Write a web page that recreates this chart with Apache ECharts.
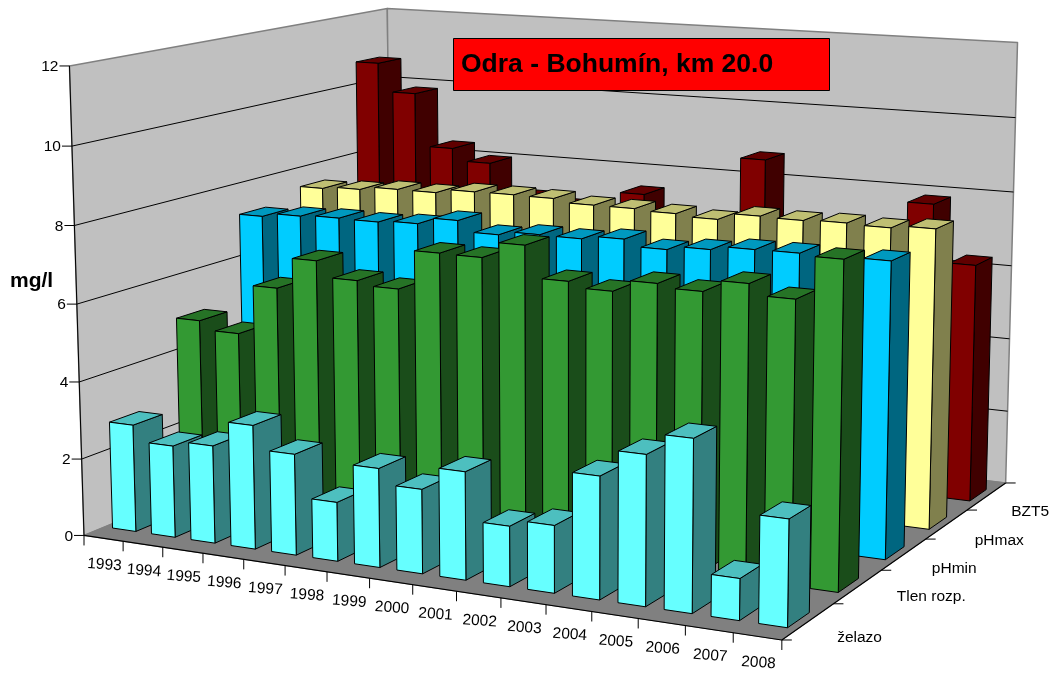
<!DOCTYPE html>
<html>
<head>
<meta charset="utf-8">
<title>Odra - Bohumín, km 20.0</title>
<style>html,body{margin:0;background:#fff}#chart{width:1058px;height:675px}</style>
</head>
<body>
<div id="chart"></div>
<script src="https://cdn.jsdelivr.net/npm/echarts@6/dist/echarts.min.js"></script>
<script>
// Water quality data, one list per measured parameter (mg/l by year)
const categories = ['1993','1994','1995','1996','1997','1998','1999','2000','2001','2002','2003','2004','2005','2006','2007','2008'];
const rows = ['želazo','Tlen rozp.','pHmin','pHmax','BZT5'];
const yTicks = [0,2,4,6,8,10,12];
const zelazo = [2.79,2.38,2.52,3.18,2.58,1.5,2.5,2.12,2.7,1.5,1.67,3.02,3.68,4.2,1.01,2.58];
const tlenRozp = [4.92,4.69,6,6.82,6.41,6.3,7.32,7.31,7.72,6.92,6.78,7.08,6.99,7.29,7.02,8.08];
const phMin = [7.21,7.31,7.35,7.34,7.39,7.57,7.29,7.39,7.38,7.47,7.3,7.4,7.5,7.51,7.45,7.52];
const phMax = [7.52,7.58,7.67,7.67,7.78,7.79,7.78,7.69,7.69,7.65,7.59,7.77,7.75,7.78,7.75,7.82];
const bzt5 = [10.68,9.88,8.39,8.05,7.16,7.0,6.8,7.52,6.6,6.5,8.73,6.8,6.8,6.6,7.89,6.36];
const rowValues = [zelazo,tlenRozp,phMin,phMax,bzt5];
const colors = ['#66ffff','#339933','#00ccff','#ffff99','#800000'];

// Perspective camera: maps (category, value, row) in the box to page pixels
const CAMERA = [38.266116,-1.3771266,75.443782,84.008371,2.156487,-39.281132,-10.878274,535.44052,-0.006840051,-0.0023911806,0.035380424];
function pr(x, y, z) {
  const c = CAMERA, w = c[8]*x + c[9]*y + c[10]*z + 1;
  return [(c[0]*x + c[1]*y + c[2]*z + c[3]) / w, (c[4]*x + c[5]*y + c[6]*z + c[7]) / w];
}

const X_N = categories.length, Z_N = rows.length, Y_MAX = 12;
const GAP_X = 0.2, GAP_Z = 0.29;
const FONT = '"Liberation Sans",Arial,sans-serif';
const rowLabelShift = [[29,16],[39,10],[28,14],[28,16],[24.5,15]];

function shade(hex, f) {
  const c = echarts.color.parse(hex);
  return `rgb(${Math.round(c[0]*f)},${Math.round(c[1]*f)},${Math.round(c[2]*f)})`;
}
const poly = (pts, fill, stroke, lw) => ({type:'polygon', shape:{points:pts}, style:{fill, stroke, lineWidth:lw||1, lineJoin:'round'}});
const line = (a, b, stroke, lw) => ({type:'line', shape:{x1:a[0],y1:a[1],x2:b[0],y2:b[1]}, style:{stroke, lineWidth:lw||1, fill:null}});
const text = (x, y, str, align, rot) => ({type:'text', x, y, rotation:rot||0, style:{text:str, fill:'#000', fontFamily:FONT, fontSize:15.5, align, verticalAlign:'middle'}});

// Side wall, back wall and floor of the box
const wallSeries = {type:'custom', coordinateSystem:'none', silent:true, z:1, data:[0], renderItem() {
  const a=pr(0,0,0), b=pr(X_N,0,0), c=pr(X_N,0,Z_N), d=pr(0,0,Z_N), e=pr(0,Y_MAX,0), f=pr(0,Y_MAX,Z_N), g=pr(X_N,Y_MAX,Z_N);
  return {type:'group', children:[
    poly([a,e,f,d],'#c0c0c0','#808080',1.5),
    poly([d,f,g,c],'#c0c0c0','#808080',1.5),
    poly([a,b,c,d],'#808080','#808080',1),
    line(a,e,'#000'), line(a,b,'#000',1.2), line(b,c,'#000',1.2)]};
}};

// Horizontal gridlines running along both walls
const gridSeries = {type:'custom', coordinateSystem:'none', silent:true, z:2, data:yTicks.filter(v => v > 0 && v < Y_MAX), renderItem(p, api) {
  const v = api.value(0);
  return {type:'polyline', shape:{points:[pr(0,v,0),pr(0,v,Z_N),pr(X_N,v,Z_N)]}, style:{stroke:'#000',lineWidth:1,fill:null}};
}};

// Value axis on the front edge of the side wall
const yAxisSeries = {type:'custom', coordinateSystem:'none', silent:true, z:3, data:yTicks, renderItem(p, api) {
  const v = api.value(0), q = pr(0,v,0);
  return {type:'group', children:[line([q[0]-10,q[1]],q,'#000'), text(q[0]-11,q[1]+1,String(v),'right')]};
}};

// Year axis along the front floor edge
const xAxisSeries = {type:'custom', coordinateSystem:'none', silent:true, z:3, data:categories.map((c,i)=>i).concat(X_N), renderItem(p, api) {
  const i = api.value(0), q = pr(i,0,0), kids = [line(q,[q[0],q[1]+10],'#000')];
  if (i < X_N) { const m = pr(i+0.5,0,0); kids.push(text(m[0]+1,m[1]+26.5,categories[i],'center',-0.07)); }
  return {type:'group', children:kids};
}};

// Parameter axis along the right floor edge
const zAxisSeries = {type:'custom', coordinateSystem:'none', silent:true, z:3, data:rows.map((c,i)=>i).concat(Z_N), renderItem(p, api) {
  const k = api.value(0), q = pr(X_N,0,k), kids = [line(q,[q[0]+10,q[1]],'#000')];
  if (k < Z_N) { const m = pr(X_N,0,k+0.5); kids.push(text(m[0]+rowLabelShift[k][0],m[1]+rowLabelShift[k][1],rows[k],'left')); }
  return {type:'group', children:kids};
}};

// One row of boxes; rows are layered back to front, boxes left to right
function barSeries(k) {
  const col = colors[k];
  return {type:'custom', name:rows[k], coordinateSystem:'none', silent:true, z:20-k, data:rowValues[k].map((v,i)=>[i,v]), renderItem(p, api) {
    const i = api.value(0), v = api.value(1), x0 = i+GAP_X, x1 = i+1-GAP_X, z0 = k+GAP_Z, z1 = k+1-GAP_Z;
    return {type:'group', children:[
      poly([pr(x1,0,z0),pr(x1,v,z0),pr(x1,v,z1),pr(x1,0,z1)],shade(col,0.5),'#000'),
      poly([pr(x0,v,z0),pr(x1,v,z0),pr(x1,v,z1),pr(x0,v,z1)],shade(col,0.75),'#000'),
      poly([pr(x0,0,z0),pr(x1,0,z0),pr(x1,v,z0),pr(x0,v,z0)],col,'#000')]};
  }};
}

const chart = echarts.init(document.getElementById('chart'), null, {renderer:'canvas'});
chart.setOption({
  animation:false,
  backgroundColor:'#fff',
  title:{text:'Odra - Bohumín, km 20.0', left:453, top:38, padding:[13,57,13,8], backgroundColor:'#ff0000', borderColor:'#000', borderWidth:1, z:30,
    textStyle:{color:'#000', fontFamily:FONT, fontWeight:'bold', fontSize:26.5}},
  graphic:[{type:'text', left:10, top:271, style:{text:'mg/l', fill:'#000', fontFamily:FONT, fontWeight:'bold', fontSize:21}}],
  series:[wallSeries,gridSeries,yAxisSeries,xAxisSeries,zAxisSeries,barSeries(4),barSeries(3),barSeries(2),barSeries(1),barSeries(0)]
});
</script>
</body>
</html>
